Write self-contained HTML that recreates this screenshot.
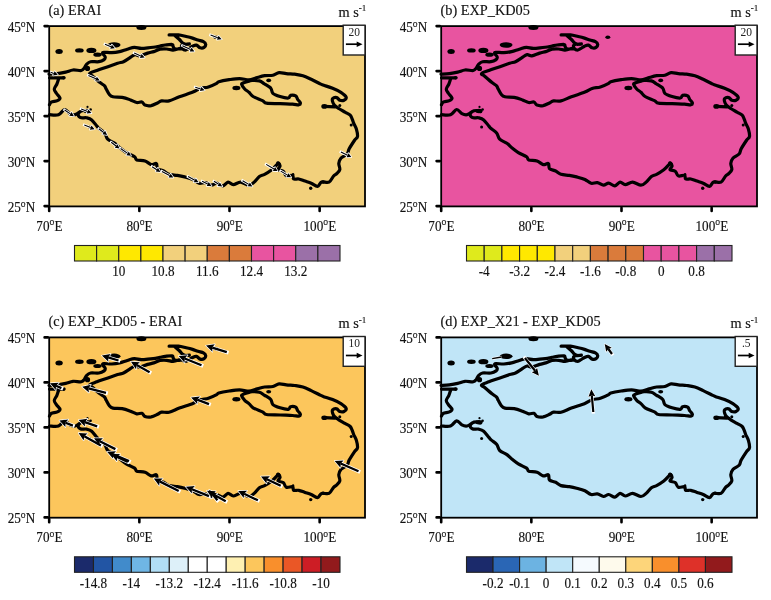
<!DOCTYPE html>
<html><head><meta charset="utf-8"><style>
html,body{margin:0;padding:0;background:#fff;}
svg{display:block;will-change:transform;filter:blur(0.35px)}
.t{font-family:"Liberation Serif",serif;font-size:13.6px;fill:#111;stroke:#111;stroke-width:0.15px}
.ti{font-size:14.3px}
.deg{font-size:10px;stroke-width:0.1px}
.sup{font-size:9px}
.r{font-family:"Liberation Serif",serif;font-size:11.5px;fill:#222}
</style></head><body>
<svg width="771" height="600" viewBox="0 0 771 600">
<defs><g id="tp"><path d="M0.0,48.2 C1.4,48.1 5.6,48.0 8.4,47.6 C11.2,47.2 14.1,46.7 16.7,46.1 C19.3,45.5 21.4,44.3 24.0,44.0 C26.6,43.7 30.4,44.9 32.3,44.5 C34.2,44.1 34.5,42.9 35.4,41.9 C36.3,40.9 36.5,39.3 37.5,38.3 C38.5,37.3 39.5,36.1 41.6,35.7 C43.7,35.3 47.6,36.1 49.9,35.7 C52.1,35.4 54.0,34.4 55.1,33.6 C56.2,32.8 56.4,32.0 56.2,31.0 C56.0,30.0 53.9,28.3 53.7,27.5 C53.5,26.7 53.5,26.4 55.0,26.3 C56.5,26.2 60.2,26.8 62.8,26.7 C65.4,26.6 68.0,26.2 70.6,25.6 C73.2,25.0 75.8,23.9 78.3,23.2 C80.8,22.5 83.1,21.5 85.4,21.4 C87.8,21.3 89.7,22.4 92.4,22.4 C95.1,22.4 99.4,21.7 101.7,21.5 C104.0,21.3 104.9,21.2 106.4,21.0 C108.0,20.8 109.4,20.3 111.0,20.0 C112.6,19.7 114.2,19.2 116.2,19.0 C118.2,18.8 121.9,18.3 123.2,18.5 C124.5,18.7 123.6,19.5 124.0,20.2 C124.4,20.9 124.6,22.1 125.6,22.6 C126.6,23.1 128.9,23.0 130.2,23.0 C131.5,23.0 132.8,22.7 133.3,22.6 M130.2,22.6 C129.2,22.9 126.1,24.0 124.0,24.1 C121.9,24.2 120.0,23.1 117.8,23.0 C115.6,22.9 113.2,22.8 111.0,23.2 C108.8,23.6 106.9,25.0 104.8,25.6 C102.7,26.2 100.9,26.4 98.6,27.1 C96.3,27.8 92.9,29.5 90.8,29.8 C88.7,30.1 87.8,28.4 86.1,28.7 C84.4,29.0 82.6,30.6 80.7,31.8 C78.8,33.0 76.5,34.8 74.5,35.7 C72.5,36.6 71.3,36.4 68.6,37.3 C65.9,38.2 61.7,39.7 58.2,40.9 C54.8,42.1 50.8,43.4 47.9,44.5 C45.0,45.6 41.3,46.6 40.6,47.6 C39.9,48.6 42.0,48.7 43.7,50.2 C45.4,51.7 49.0,54.9 51.0,56.5 C53.0,58.1 54.6,58.8 55.6,59.9 C56.6,61.0 56.4,61.6 57.2,63.0 C58.0,64.4 59.1,66.9 60.2,68.2 C61.3,69.5 61.7,70.3 63.9,70.8 C66.1,71.3 70.3,70.8 73.2,71.3 C76.1,71.8 79.1,73.0 81.5,73.9 C83.9,74.8 85.8,76.2 87.7,76.5 C89.6,76.8 91.5,75.6 92.9,76.0 C94.3,76.4 94.5,78.5 96.0,79.1 C97.5,79.7 100.1,79.9 102.2,79.6 C104.3,79.2 106.8,77.8 108.5,77.0 C110.2,76.2 110.7,75.2 112.6,74.9 C114.5,74.6 117.0,75.6 120.0,74.9 C123.0,74.2 126.4,72.3 130.4,70.8 C134.4,69.3 140.5,67.5 143.9,66.1 C147.3,64.7 148.5,63.4 151.1,62.5 C153.7,61.6 156.6,61.8 159.4,60.9 C162.2,60.0 166.0,58.2 167.7,57.3 C169.4,56.4 167.7,56.3 169.8,55.7 C171.9,55.1 176.8,54.2 180.2,53.7 C183.6,53.2 187.2,52.6 190.5,52.6 C193.8,52.6 197.2,54.0 200.0,53.9 C202.8,53.8 204.7,52.5 207.3,51.8 C209.9,51.1 212.8,50.1 215.6,49.7 C218.4,49.3 221.5,49.7 223.9,49.2 C226.3,48.7 227.9,46.9 230.1,46.6 C232.3,46.3 234.7,47.3 237.3,47.6 C239.9,47.9 242.8,47.9 245.6,48.2 C248.4,48.6 251.1,48.9 253.9,49.7 C256.7,50.6 259.4,52.0 262.2,53.3 C265.0,54.6 268.5,56.5 270.5,57.5 C272.5,58.5 272.0,58.3 274.2,59.1 C276.4,59.9 280.7,61.1 283.6,62.3 C286.6,63.5 289.6,64.9 291.9,66.4 C294.1,67.9 296.6,69.8 297.1,71.1 C297.6,72.4 296.1,73.7 295.0,74.2 C293.9,74.7 292.0,74.6 290.8,74.2 C289.6,73.8 288.9,71.9 287.7,71.6 C286.5,71.3 284.3,71.9 283.6,72.6 C282.9,73.3 283.3,74.6 283.6,75.7 C283.9,76.8 284.6,78.3 285.6,79.4 C286.6,80.5 288.1,81.4 289.8,82.5 C291.5,83.6 294.1,85.0 296.0,86.1 C297.9,87.2 300.0,88.0 301.2,89.2 C302.4,90.4 302.7,92.0 303.3,93.4 C303.9,94.8 304.1,95.9 304.8,97.5 C305.5,99.1 306.8,100.9 307.4,103.1 C308.0,105.2 308.8,108.5 308.5,110.4 C308.2,112.3 306.8,112.4 305.4,114.5 C304.0,116.6 301.4,120.5 300.2,122.8 C299.0,125.0 299.5,126.4 298.1,128.0 C296.7,129.6 293.3,130.6 291.9,132.2 C290.5,133.8 290.0,135.4 289.8,137.3 C289.6,139.2 291.2,141.9 290.8,143.6 C290.4,145.3 288.7,146.6 287.7,147.7 C286.7,148.8 285.9,148.6 284.6,150.0 C283.3,151.4 282.0,155.1 280.0,156.1 C278.0,157.1 274.5,155.4 272.6,156.1 C270.7,156.8 270.2,160.1 268.5,160.3 C266.8,160.5 264.3,158.1 262.2,157.2 C260.1,156.3 258.1,155.8 256.0,155.1 C253.9,154.4 251.7,153.3 249.8,153.0 C247.9,152.7 245.6,153.6 244.6,153.0 C243.6,152.4 244.8,149.9 243.6,149.4 C242.4,148.9 238.9,150.6 237.3,149.9 C235.7,149.2 235.6,146.2 234.2,145.2 C232.8,144.2 229.5,144.6 229.0,143.7 C228.5,142.8 231.1,141.1 231.1,140.0 C231.1,138.9 229.5,137.2 229.0,136.9 C228.5,136.7 229.0,137.4 228.0,138.5 C227.0,139.6 224.9,142.1 222.8,143.7 C220.7,145.3 217.7,147.2 215.6,148.3 C213.5,149.4 212.1,149.1 210.4,150.4 C208.7,151.7 206.9,154.6 205.2,156.1 C203.5,157.6 202.3,159.2 200.0,159.2 C197.7,159.2 194.2,156.2 191.6,156.1 C189.0,156.0 186.4,158.7 184.3,158.7 C182.2,158.7 180.8,155.9 179.1,156.1 C177.4,156.3 175.8,159.6 173.9,159.8 C172.0,160.0 169.6,157.3 167.7,157.2 C165.8,157.1 164.4,159.3 162.5,159.2 C160.6,159.1 158.4,156.9 156.3,156.6 C154.2,156.3 152.2,157.7 150.1,157.2 C148.0,156.7 146.3,154.6 143.9,153.5 C141.5,152.4 138.2,151.6 135.6,150.9 C133.0,150.2 130.9,149.8 128.3,149.4 C125.7,149.0 122.3,149.0 120.0,148.3 C117.7,147.6 116.6,145.9 114.7,145.0 C112.8,144.1 109.7,143.9 108.5,142.7 C107.3,141.4 108.5,138.2 107.4,137.5 C106.4,136.8 104.1,139.0 102.2,138.6 C100.3,138.2 98.4,135.7 96.0,134.9 C93.6,134.1 89.4,134.6 87.7,133.9 C86.0,133.2 87.3,132.0 85.6,130.8 C83.9,129.6 79.7,128.1 77.3,126.6 C74.9,125.1 73.0,123.5 71.1,122.0 C69.2,120.5 68.0,118.8 65.9,117.3 C63.8,115.8 60.4,114.9 58.7,113.2 C57.0,111.5 57.0,108.6 55.6,106.9 C54.2,105.2 51.7,103.9 50.4,102.8 C49.1,101.7 49.2,101.6 47.9,100.1 C46.6,98.6 44.4,95.3 42.7,93.9 C41.0,92.5 39.2,92.2 37.5,91.8 C35.8,91.4 33.7,92.2 32.3,91.8 C30.9,91.4 29.4,90.2 29.2,89.2 C29.0,88.2 30.3,86.4 31.3,85.6 C32.3,84.8 34.0,84.5 35.4,84.5 C36.8,84.5 38.9,85.4 39.6,85.6 M0.5,88.7 C2.0,88.7 7.0,89.6 9.5,88.7 C12.0,87.8 13.8,83.7 15.7,83.5 C17.6,83.3 19.2,86.7 20.9,87.6 C22.6,88.5 24.4,89.0 26.1,88.7 C27.8,88.4 30.4,86.1 31.3,85.6 M0.5,51.8 L14.7,51.8 M9.5,53.3 C9.2,54.1 8.6,56.4 7.9,58.0 C7.2,59.6 5.4,61.7 5.3,63.2 C5.2,64.8 6.5,65.8 7.4,67.3 C8.3,68.8 10.8,70.8 11.0,72.0 C11.2,73.2 9.9,73.9 8.4,74.6 C6.9,75.3 3.5,75.5 2.2,76.2 C0.9,76.9 0.8,78.4 0.5,78.8 M120.1,8.9 C121.7,8.9 126.7,8.6 129.5,8.9 C132.3,9.2 134.9,10.0 137.2,10.5 C139.5,11.0 141.6,11.5 143.5,12.1 C145.4,12.7 147.1,13.4 148.9,14.0 C150.7,14.6 153.1,14.9 154.4,15.6 C155.7,16.3 156.6,17.3 156.7,18.3 C156.8,19.3 156.0,20.8 155.1,21.4 C154.2,22.0 152.5,22.2 151.2,21.8 C149.9,21.4 148.7,19.4 147.4,19.1 C146.1,18.8 144.8,19.6 143.5,20.2 C142.2,20.8 140.8,22.0 139.6,22.6 C138.4,23.2 137.6,24.1 136.5,24.1 C135.4,24.1 134.0,23.4 133.3,22.6 C132.7,21.8 132.3,20.2 132.6,19.5 C132.9,18.8 133.6,18.6 134.9,18.3 C136.2,18.0 139.5,18.0 140.4,17.9 M125.6,9.3 C126.4,10.0 128.9,12.0 130.2,13.2 C131.5,14.4 132.2,15.8 133.3,16.7 C134.4,17.6 136.0,18.0 136.5,18.3 M203.1,54.4 C204.8,54.3 208.3,54.3 210.4,54.9 C212.5,55.5 213.7,56.8 215.6,58.0 C217.5,59.2 220.4,60.7 221.8,62.2 C223.2,63.8 222.4,65.9 223.9,67.3 C225.4,68.7 228.5,69.7 231.1,70.5 C233.7,71.3 237.7,72.2 239.4,72.0 C241.1,71.8 240.3,69.8 241.5,69.4 C242.7,69.1 245.5,69.2 246.7,69.9 C247.9,70.6 248.0,72.5 248.8,73.6 C249.6,74.7 251.1,75.8 251.3,76.7 C251.5,77.6 251.1,78.5 249.8,78.8 C248.5,79.0 246.7,78.4 243.6,78.2 C240.5,78.0 235.4,77.9 231.1,77.7 C226.8,77.5 220.5,77.7 217.6,77.2 C214.7,76.7 215.8,75.7 213.5,74.6 C211.2,73.5 206.3,71.9 204.1,70.5 C201.8,69.1 201.4,67.5 200.0,66.3 C198.6,65.0 196.9,64.3 195.7,63.0 C194.5,61.7 192.8,59.3 192.6,58.3 C192.4,57.3 193.5,57.3 194.7,56.8 C195.9,56.3 198.6,55.6 200.0,55.2 C201.4,54.8 201.4,54.5 203.1,54.4 M275.3,80.4 L285.6,80.9" fill="none" stroke="#000" stroke-width="3.2" stroke-linejoin="round" stroke-linecap="round"/>
<ellipse cx="10.1" cy="25.6" rx="3.7" ry="2.5"/>
<ellipse cx="30.4" cy="24.4" rx="4.3" ry="2.2"/>
<ellipse cx="48.5" cy="28.7" rx="4.2" ry="2.1"/>
<ellipse cx="65.1" cy="19" rx="6.4" ry="2.7"/>
<ellipse cx="42.4" cy="24.4" rx="5" ry="2.6"/>
<ellipse cx="92.4" cy="1.5" rx="5" ry="2.5"/>
<ellipse cx="166.8" cy="11.3" rx="2.5" ry="1.8"/>
<ellipse cx="187.4" cy="62" rx="4" ry="2.2"/>
<ellipse cx="219.7" cy="54.4" rx="2.5" ry="1.8"/>
<ellipse cx="275.3" cy="80.4" rx="3" ry="2.3"/>
<ellipse cx="290.8" cy="79.4" rx="1.5" ry="1.5"/>
<ellipse cx="38" cy="85" rx="3.5" ry="2.2"/>
<ellipse cx="38.5" cy="80.9" rx="1.1" ry="1.1"/>
<ellipse cx="41.6" cy="83.5" rx="1.3" ry="1.3"/>
<ellipse cx="40.6" cy="101.1" rx="1.5" ry="1.5"/>
<ellipse cx="261.7" cy="162.3" rx="1.7" ry="1.7"/>
<ellipse cx="38.5" cy="42.4" rx="2.6" ry="2.6"/>
<ellipse cx="138.5" cy="18.2" rx="2.5" ry="1.5"/>
<ellipse cx="302.2" cy="99.1" rx="1.5" ry="1.5"/>
<ellipse cx="244.1" cy="148.2" rx="1.2" ry="1.2"/>
<ellipse cx="14.7" cy="51.8" rx="2" ry="1.8"/>
<ellipse cx="229.5" cy="137.5" rx="2" ry="2"/>
<ellipse cx="274.1" cy="156" rx="2" ry="1.8"/></g></defs>
<rect x="49" y="26.0" width="316" height="180.3" fill="#F2D07C"/>
<g transform="translate(49,26.0)"><use href="#tp"/><path d="M56.0,18.2L62.0,20.7 M85.2,27.0L91.8,29.9 M133.4,19.7L141.6,23.6 M1.6,46.2L4.8,47.4 M39.4,49.4L47.0,52.7 M146.3,61.2L151.6,63.0 M15.6,84.0L21.4,87.9 M32.2,83.0L38.6,85.5 M35.3,99.1L41.7,101.6 M49.8,102.8L54.7,106.5 M62.2,116.3L67.1,120.0 M71.6,122.5L78.6,127.4 M103.1,140.7L107.8,143.7 M113.0,145.4L120.6,149.6 M139.1,150.6L145.8,154.3 M153.1,155.3L158.7,158.1 M165.0,155.3L169.7,158.3 M193.6,154.7L199.8,158.4 M291.9,126.0L298.5,129.2 M217.2,138.4L225.0,143.0 M231.7,145.1L238.5,149.1 M161.6,9.1L168.8,11.7" fill="none" stroke="#fff" stroke-width="2.70" stroke-linecap="square"/><path d="M65.9,22.3L61.2,22.7L62.0,20.7L62.9,18.7Z M95.6,31.6L90.9,31.9L91.8,29.9L92.6,27.9Z M145.4,25.4L140.7,25.6L141.6,23.6L142.6,21.6Z M8.8,48.8L4.1,49.4L4.8,47.4L5.6,45.3Z M50.8,54.4L46.1,54.7L47.0,52.7L47.8,50.7Z M155.6,64.3L150.9,65.1L151.6,63.0L152.3,60.9Z M24.9,90.2L20.2,89.7L21.4,87.9L22.6,86.0Z M42.5,87.1L37.8,87.6L38.6,85.5L39.4,83.5Z M45.6,103.2L40.9,103.7L41.7,101.6L42.5,99.6Z M58.1,109.0L53.4,108.2L54.7,106.5L56.1,104.7Z M70.5,122.5L65.8,121.7L67.1,120.0L68.5,118.2Z M82.0,129.8L77.3,129.2L78.6,127.4L79.8,125.6Z M111.4,145.9L106.7,145.5L107.8,143.7L109.0,141.8Z M124.3,151.6L119.6,151.5L120.6,149.6L121.7,147.7Z M149.5,156.3L144.8,156.2L145.8,154.3L146.9,152.4Z M162.5,159.9L157.8,160.0L158.7,158.1L159.7,156.1Z M173.3,160.5L168.6,160.1L169.7,158.3L170.9,156.4Z M203.4,160.5L198.7,160.3L199.8,158.4L200.9,156.5Z M302.3,131.0L297.6,131.2L298.5,129.2L299.5,127.2Z M228.6,145.1L223.9,144.9L225.0,143.0L226.1,141.1Z M242.1,151.3L237.4,151.0L238.5,149.1L239.6,147.3Z M172.7,13.2L168.0,13.8L168.8,11.7L169.5,9.7Z" fill="#fff" stroke="#fff" stroke-width="1.60" stroke-linejoin="round"/><path d="M56.0,18.2L62.0,20.7 M85.2,27.0L91.8,29.9 M133.4,19.7L141.6,23.6 M1.6,46.2L4.8,47.4 M39.4,49.4L47.0,52.7 M146.3,61.2L151.6,63.0 M15.6,84.0L21.4,87.9 M32.2,83.0L38.6,85.5 M35.3,99.1L41.7,101.6 M49.8,102.8L54.7,106.5 M62.2,116.3L67.1,120.0 M71.6,122.5L78.6,127.4 M103.1,140.7L107.8,143.7 M113.0,145.4L120.6,149.6 M139.1,150.6L145.8,154.3 M153.1,155.3L158.7,158.1 M165.0,155.3L169.7,158.3 M193.6,154.7L199.8,158.4 M291.9,126.0L298.5,129.2 M217.2,138.4L225.0,143.0 M231.7,145.1L238.5,149.1 M161.6,9.1L168.8,11.7" stroke="#000" stroke-width="1.1" fill="none"/><path d="M65.9,22.3L61.2,22.7L62.0,20.7L62.9,18.7Z M95.6,31.6L90.9,31.9L91.8,29.9L92.6,27.9Z M145.4,25.4L140.7,25.6L141.6,23.6L142.6,21.6Z M8.8,48.8L4.1,49.4L4.8,47.4L5.6,45.3Z M50.8,54.4L46.1,54.7L47.0,52.7L47.8,50.7Z M155.6,64.3L150.9,65.1L151.6,63.0L152.3,60.9Z M24.9,90.2L20.2,89.7L21.4,87.9L22.6,86.0Z M42.5,87.1L37.8,87.6L38.6,85.5L39.4,83.5Z M45.6,103.2L40.9,103.7L41.7,101.6L42.5,99.6Z M58.1,109.0L53.4,108.2L54.7,106.5L56.1,104.7Z M70.5,122.5L65.8,121.7L67.1,120.0L68.5,118.2Z M82.0,129.8L77.3,129.2L78.6,127.4L79.8,125.6Z M111.4,145.9L106.7,145.5L107.8,143.7L109.0,141.8Z M124.3,151.6L119.6,151.5L120.6,149.6L121.7,147.7Z M149.5,156.3L144.8,156.2L145.8,154.3L146.9,152.4Z M162.5,159.9L157.8,160.0L158.7,158.1L159.7,156.1Z M173.3,160.5L168.6,160.1L169.7,158.3L170.9,156.4Z M203.4,160.5L198.7,160.3L199.8,158.4L200.9,156.5Z M302.3,131.0L297.6,131.2L298.5,129.2L299.5,127.2Z M228.6,145.1L223.9,144.9L225.0,143.0L226.1,141.1Z M242.1,151.3L237.4,151.0L238.5,149.1L239.6,147.3Z M172.7,13.2L168.0,13.8L168.8,11.7L169.5,9.7Z" fill="#000"/></g>
<rect x="49.2" y="26.1" width="315.8" height="180.3" fill="none" stroke="#000" stroke-width="1.8"/>
<path d="M44.6,26.1H47.8 M44.6,71.1H47.8 M44.6,116.1H47.8 M44.6,161.1H47.8 M44.6,206.1H47.8 M49.20,207.70000000000002V210.9 M139.35,207.70000000000002V210.9 M229.50,207.70000000000002V210.9 M319.65,207.70000000000002V210.9" stroke="#000" stroke-width="2.6" fill="none" stroke-linecap="round"/>
<g transform="translate(35.2,32.1) scale(0.97,1)"><text text-anchor="end" class="t">45<tspan class="deg" dy="-5.4">o</tspan><tspan dy="5.4">N</tspan></text></g>
<g transform="translate(35.2,77.1) scale(0.97,1)"><text text-anchor="end" class="t">40<tspan class="deg" dy="-5.4">o</tspan><tspan dy="5.4">N</tspan></text></g>
<g transform="translate(35.2,122.1) scale(0.97,1)"><text text-anchor="end" class="t">35<tspan class="deg" dy="-5.4">o</tspan><tspan dy="5.4">N</tspan></text></g>
<g transform="translate(35.2,167.1) scale(0.97,1)"><text text-anchor="end" class="t">30<tspan class="deg" dy="-5.4">o</tspan><tspan dy="5.4">N</tspan></text></g>
<g transform="translate(35.2,212.1) scale(0.97,1)"><text text-anchor="end" class="t">25<tspan class="deg" dy="-5.4">o</tspan><tspan dy="5.4">N</tspan></text></g>
<g transform="translate(49.40,230.60000000000002) scale(0.97,1)"><text text-anchor="middle" class="t">70<tspan class="deg" dy="-5.4">o</tspan><tspan dy="5.4">E</tspan></text></g>
<g transform="translate(139.55,230.60000000000002) scale(0.97,1)"><text text-anchor="middle" class="t">80<tspan class="deg" dy="-5.4">o</tspan><tspan dy="5.4">E</tspan></text></g>
<g transform="translate(229.70,230.60000000000002) scale(0.97,1)"><text text-anchor="middle" class="t">90<tspan class="deg" dy="-5.4">o</tspan><tspan dy="5.4">E</tspan></text></g>
<g transform="translate(319.85,230.60000000000002) scale(0.97,1)"><text text-anchor="middle" class="t">100<tspan class="deg" dy="-5.4">o</tspan><tspan dy="5.4">E</tspan></text></g>
<text x="48.5" y="14.8" class="t ti">(a) ERAI</text>
<text x="338.5" y="16.8" class="t ti">m s<tspan class="sup" dy="-5.5">-1</tspan></text>
<rect x="343.2" y="25.2" width="21.8" height="29.8" fill="#fff" stroke="#222" stroke-width="1.4"/>
<text x="354.2" y="35.8" text-anchor="middle" class="r">20</text>
<path d="M345.9,44.2H357.2" stroke="#000" stroke-width="1.7"/><path d="M356.7,41.5L362.5,44.2L356.7,46.9Z" fill="#000"/>
<rect x="74.50" y="245.5" width="22.12" height="15.5" fill="#DFEA1C" stroke="#222" stroke-width="1.1"/>
<rect x="96.62" y="245.5" width="22.12" height="15.5" fill="#DFEA1C" stroke="#222" stroke-width="1.1"/>
<rect x="118.75" y="245.5" width="22.12" height="15.5" fill="#FFE800" stroke="#222" stroke-width="1.1"/>
<rect x="140.88" y="245.5" width="22.12" height="15.5" fill="#FFE800" stroke="#222" stroke-width="1.1"/>
<rect x="163.00" y="245.5" width="22.12" height="15.5" fill="#F2D07C" stroke="#222" stroke-width="1.1"/>
<rect x="185.12" y="245.5" width="22.12" height="15.5" fill="#F2D07C" stroke="#222" stroke-width="1.1"/>
<rect x="207.25" y="245.5" width="22.12" height="15.5" fill="#DA7B3B" stroke="#222" stroke-width="1.1"/>
<rect x="229.38" y="245.5" width="22.12" height="15.5" fill="#DA7B3B" stroke="#222" stroke-width="1.1"/>
<rect x="251.50" y="245.5" width="22.12" height="15.5" fill="#E854A0" stroke="#222" stroke-width="1.1"/>
<rect x="273.62" y="245.5" width="22.12" height="15.5" fill="#E854A0" stroke="#222" stroke-width="1.1"/>
<rect x="295.75" y="245.5" width="22.12" height="15.5" fill="#9B70A8" stroke="#222" stroke-width="1.1"/>
<rect x="317.88" y="245.5" width="22.12" height="15.5" fill="#9B70A8" stroke="#222" stroke-width="1.1"/>
<g transform="translate(118.75,276.3) scale(0.97,1)"><text text-anchor="middle" class="t">10</text></g>
<g transform="translate(163.00,276.3) scale(0.97,1)"><text text-anchor="middle" class="t">10.8</text></g>
<g transform="translate(207.25,276.3) scale(0.97,1)"><text text-anchor="middle" class="t">11.6</text></g>
<g transform="translate(251.50,276.3) scale(0.97,1)"><text text-anchor="middle" class="t">12.4</text></g>
<g transform="translate(295.75,276.3) scale(0.97,1)"><text text-anchor="middle" class="t">13.2</text></g><rect x="441" y="26.0" width="316" height="180.3" fill="#E854A0"/>
<g transform="translate(441,26.0)"><use href="#tp"/></g>
<rect x="441.2" y="26.1" width="315.8" height="180.3" fill="none" stroke="#000" stroke-width="1.8"/>
<path d="M436.6,26.1H439.8 M436.6,71.1H439.8 M436.6,116.1H439.8 M436.6,161.1H439.8 M436.6,206.1H439.8 M441.20,207.70000000000002V210.9 M531.35,207.70000000000002V210.9 M621.50,207.70000000000002V210.9 M711.65,207.70000000000002V210.9" stroke="#000" stroke-width="2.6" fill="none" stroke-linecap="round"/>
<g transform="translate(427.2,32.1) scale(0.97,1)"><text text-anchor="end" class="t">45<tspan class="deg" dy="-5.4">o</tspan><tspan dy="5.4">N</tspan></text></g>
<g transform="translate(427.2,77.1) scale(0.97,1)"><text text-anchor="end" class="t">40<tspan class="deg" dy="-5.4">o</tspan><tspan dy="5.4">N</tspan></text></g>
<g transform="translate(427.2,122.1) scale(0.97,1)"><text text-anchor="end" class="t">35<tspan class="deg" dy="-5.4">o</tspan><tspan dy="5.4">N</tspan></text></g>
<g transform="translate(427.2,167.1) scale(0.97,1)"><text text-anchor="end" class="t">30<tspan class="deg" dy="-5.4">o</tspan><tspan dy="5.4">N</tspan></text></g>
<g transform="translate(427.2,212.1) scale(0.97,1)"><text text-anchor="end" class="t">25<tspan class="deg" dy="-5.4">o</tspan><tspan dy="5.4">N</tspan></text></g>
<g transform="translate(441.40,230.60000000000002) scale(0.97,1)"><text text-anchor="middle" class="t">70<tspan class="deg" dy="-5.4">o</tspan><tspan dy="5.4">E</tspan></text></g>
<g transform="translate(531.55,230.60000000000002) scale(0.97,1)"><text text-anchor="middle" class="t">80<tspan class="deg" dy="-5.4">o</tspan><tspan dy="5.4">E</tspan></text></g>
<g transform="translate(621.70,230.60000000000002) scale(0.97,1)"><text text-anchor="middle" class="t">90<tspan class="deg" dy="-5.4">o</tspan><tspan dy="5.4">E</tspan></text></g>
<g transform="translate(711.85,230.60000000000002) scale(0.97,1)"><text text-anchor="middle" class="t">100<tspan class="deg" dy="-5.4">o</tspan><tspan dy="5.4">E</tspan></text></g>
<text x="440.5" y="14.8" class="t ti">(b) EXP_KD05</text>
<text x="730.5" y="16.8" class="t ti">m s<tspan class="sup" dy="-5.5">-1</tspan></text>
<rect x="735.2" y="25.2" width="21.8" height="29.8" fill="#fff" stroke="#222" stroke-width="1.4"/>
<text x="746.2" y="35.8" text-anchor="middle" class="r">20</text>
<path d="M737.9000000000001,44.2H749.2" stroke="#000" stroke-width="1.7"/><path d="M748.7,41.5L754.5,44.2L748.7,46.9Z" fill="#000"/>
<rect x="466.50" y="245.5" width="17.70" height="15.5" fill="#DFEA1C" stroke="#222" stroke-width="1.1"/>
<rect x="484.20" y="245.5" width="17.70" height="15.5" fill="#DFEA1C" stroke="#222" stroke-width="1.1"/>
<rect x="501.90" y="245.5" width="17.70" height="15.5" fill="#FFE800" stroke="#222" stroke-width="1.1"/>
<rect x="519.60" y="245.5" width="17.70" height="15.5" fill="#FFE800" stroke="#222" stroke-width="1.1"/>
<rect x="537.30" y="245.5" width="17.70" height="15.5" fill="#FFE800" stroke="#222" stroke-width="1.1"/>
<rect x="555.00" y="245.5" width="17.70" height="15.5" fill="#F2D07C" stroke="#222" stroke-width="1.1"/>
<rect x="572.70" y="245.5" width="17.70" height="15.5" fill="#F2D07C" stroke="#222" stroke-width="1.1"/>
<rect x="590.40" y="245.5" width="17.70" height="15.5" fill="#DA7B3B" stroke="#222" stroke-width="1.1"/>
<rect x="608.10" y="245.5" width="17.70" height="15.5" fill="#DA7B3B" stroke="#222" stroke-width="1.1"/>
<rect x="625.80" y="245.5" width="17.70" height="15.5" fill="#DA7B3B" stroke="#222" stroke-width="1.1"/>
<rect x="643.50" y="245.5" width="17.70" height="15.5" fill="#E854A0" stroke="#222" stroke-width="1.1"/>
<rect x="661.20" y="245.5" width="17.70" height="15.5" fill="#E854A0" stroke="#222" stroke-width="1.1"/>
<rect x="678.90" y="245.5" width="17.70" height="15.5" fill="#E854A0" stroke="#222" stroke-width="1.1"/>
<rect x="696.60" y="245.5" width="17.70" height="15.5" fill="#9B70A8" stroke="#222" stroke-width="1.1"/>
<rect x="714.30" y="245.5" width="17.70" height="15.5" fill="#9B70A8" stroke="#222" stroke-width="1.1"/>
<g transform="translate(484.20,276.3) scale(0.97,1)"><text text-anchor="middle" class="t">-4</text></g>
<g transform="translate(519.60,276.3) scale(0.97,1)"><text text-anchor="middle" class="t">-3.2</text></g>
<g transform="translate(555.00,276.3) scale(0.97,1)"><text text-anchor="middle" class="t">-2.4</text></g>
<g transform="translate(590.40,276.3) scale(0.97,1)"><text text-anchor="middle" class="t">-1.6</text></g>
<g transform="translate(625.80,276.3) scale(0.97,1)"><text text-anchor="middle" class="t">-0.8</text></g>
<g transform="translate(661.20,276.3) scale(0.97,1)"><text text-anchor="middle" class="t">0</text></g>
<g transform="translate(696.60,276.3) scale(0.97,1)"><text text-anchor="middle" class="t">0.8</text></g><rect x="49" y="337.3" width="316" height="180.3" fill="#FCC65C"/>
<g transform="translate(49,337.3)"><use href="#tp"/><path d="M69.5,23.2L59.1,20.1 M100.6,34.9L87.7,27.7 M152.5,28.0L135.7,21.2 M57.0,55.6L39.5,51.0 M160.0,66.8L148.2,62.4 M12.4,50.8L7.0,48.5 M23.9,88.3L16.5,85.4 M48.2,89.0L35.8,84.9 M51.9,108.2L35.3,98.9 M66.4,111.8L50.8,103.9 M80.0,123.8L64.1,117.0 M78.8,124.6L68.1,119.7 M129.7,153.7L110.6,144.1 M160.0,158.8L142.9,151.9 M168.4,163.0L164.2,157.7 M208.9,163.0L195.1,156.5 M231.7,148.5L217.9,141.9 M309.5,133.9L291.7,126.2 M177.8,14.9L163.2,10.3 M176.7,164.0L163.7,156.7" fill="none" stroke="#fff" stroke-width="3.70" stroke-linecap="square"/><path d="M52.9,18.3L61.7,16.7L59.1,20.1L59.4,24.4Z M82.0,24.5L90.9,24.9L87.7,27.7L87.0,31.9Z M129.7,18.7L138.6,18.0L135.7,21.2L135.6,25.4Z M33.2,49.4L41.9,47.5L39.5,51.0L39.9,55.3Z M142.1,60.2L151.0,59.2L148.2,62.4L148.2,66.7Z M1.0,46.0L9.9,45.4L7.0,48.5L6.8,52.8Z M10.4,83.1L19.3,82.2L16.5,85.4L16.4,89.7Z M29.6,82.8L38.5,81.5L35.8,84.9L35.9,89.1Z M29.6,95.7L38.5,96.1L35.3,98.9L34.6,103.1Z M45.0,101.0L53.9,101.0L50.8,103.9L50.3,108.2Z M58.1,114.4L67.0,113.9L64.1,117.0L63.9,121.2Z M62.2,117.0L71.1,116.7L68.1,119.7L67.8,124.0Z M104.8,141.2L113.7,141.2L110.6,144.1L110.2,148.4Z M136.9,149.5L145.8,148.8L142.9,151.9L142.8,156.2Z M160.1,152.6L168.2,156.4L164.2,157.7L162.0,161.3Z M189.2,153.7L198.1,153.5L195.1,156.5L194.7,160.7Z M212.0,139.1L220.9,138.9L217.9,141.9L217.5,146.2Z M285.7,123.6L294.6,123.1L291.7,126.2L291.5,130.4Z M157.0,8.3L165.8,6.9L163.2,10.3L163.4,14.5Z M158.0,153.5L166.9,153.9L163.7,156.7L163.0,160.9Z" fill="#fff" stroke="#fff" stroke-width="1.40" stroke-linejoin="round"/><path d="M69.5,23.2L59.1,20.1 M100.6,34.9L87.7,27.7 M152.5,28.0L135.7,21.2 M57.0,55.6L39.5,51.0 M160.0,66.8L148.2,62.4 M12.4,50.8L7.0,48.5 M23.9,88.3L16.5,85.4 M48.2,89.0L35.8,84.9 M51.9,108.2L35.3,98.9 M66.4,111.8L50.8,103.9 M80.0,123.8L64.1,117.0 M78.8,124.6L68.1,119.7 M129.7,153.7L110.6,144.1 M160.0,158.8L142.9,151.9 M168.4,163.0L164.2,157.7 M208.9,163.0L195.1,156.5 M231.7,148.5L217.9,141.9 M309.5,133.9L291.7,126.2 M177.8,14.9L163.2,10.3 M176.7,164.0L163.7,156.7" stroke="#000" stroke-width="2.3" fill="none"/><path d="M52.9,18.3L61.7,16.7L59.1,20.1L59.4,24.4Z M82.0,24.5L90.9,24.9L87.7,27.7L87.0,31.9Z M129.7,18.7L138.6,18.0L135.7,21.2L135.6,25.4Z M33.2,49.4L41.9,47.5L39.5,51.0L39.9,55.3Z M142.1,60.2L151.0,59.2L148.2,62.4L148.2,66.7Z M1.0,46.0L9.9,45.4L7.0,48.5L6.8,52.8Z M10.4,83.1L19.3,82.2L16.5,85.4L16.4,89.7Z M29.6,82.8L38.5,81.5L35.8,84.9L35.9,89.1Z M29.6,95.7L38.5,96.1L35.3,98.9L34.6,103.1Z M45.0,101.0L53.9,101.0L50.8,103.9L50.3,108.2Z M58.1,114.4L67.0,113.9L64.1,117.0L63.9,121.2Z M62.2,117.0L71.1,116.7L68.1,119.7L67.8,124.0Z M104.8,141.2L113.7,141.2L110.6,144.1L110.2,148.4Z M136.9,149.5L145.8,148.8L142.9,151.9L142.8,156.2Z M160.1,152.6L168.2,156.4L164.2,157.7L162.0,161.3Z M189.2,153.7L198.1,153.5L195.1,156.5L194.7,160.7Z M212.0,139.1L220.9,138.9L217.9,141.9L217.5,146.2Z M285.7,123.6L294.6,123.1L291.7,126.2L291.5,130.4Z M157.0,8.3L165.8,6.9L163.2,10.3L163.4,14.5Z M158.0,153.5L166.9,153.9L163.7,156.7L163.0,160.9Z" fill="#000"/></g>
<rect x="49.2" y="337.40000000000003" width="315.8" height="180.3" fill="none" stroke="#000" stroke-width="1.8"/>
<path d="M44.6,337.40000000000003H47.8 M44.6,382.40000000000003H47.8 M44.6,427.40000000000003H47.8 M44.6,472.40000000000003H47.8 M44.6,517.4H47.8 M49.20,519.0V522.2 M139.35,519.0V522.2 M229.50,519.0V522.2 M319.65,519.0V522.2" stroke="#000" stroke-width="2.6" fill="none" stroke-linecap="round"/>
<g transform="translate(35.2,343.40000000000003) scale(0.97,1)"><text text-anchor="end" class="t">45<tspan class="deg" dy="-5.4">o</tspan><tspan dy="5.4">N</tspan></text></g>
<g transform="translate(35.2,388.40000000000003) scale(0.97,1)"><text text-anchor="end" class="t">40<tspan class="deg" dy="-5.4">o</tspan><tspan dy="5.4">N</tspan></text></g>
<g transform="translate(35.2,433.40000000000003) scale(0.97,1)"><text text-anchor="end" class="t">35<tspan class="deg" dy="-5.4">o</tspan><tspan dy="5.4">N</tspan></text></g>
<g transform="translate(35.2,478.40000000000003) scale(0.97,1)"><text text-anchor="end" class="t">30<tspan class="deg" dy="-5.4">o</tspan><tspan dy="5.4">N</tspan></text></g>
<g transform="translate(35.2,523.4) scale(0.97,1)"><text text-anchor="end" class="t">25<tspan class="deg" dy="-5.4">o</tspan><tspan dy="5.4">N</tspan></text></g>
<g transform="translate(49.40,541.9) scale(0.97,1)"><text text-anchor="middle" class="t">70<tspan class="deg" dy="-5.4">o</tspan><tspan dy="5.4">E</tspan></text></g>
<g transform="translate(139.55,541.9) scale(0.97,1)"><text text-anchor="middle" class="t">80<tspan class="deg" dy="-5.4">o</tspan><tspan dy="5.4">E</tspan></text></g>
<g transform="translate(229.70,541.9) scale(0.97,1)"><text text-anchor="middle" class="t">90<tspan class="deg" dy="-5.4">o</tspan><tspan dy="5.4">E</tspan></text></g>
<g transform="translate(319.85,541.9) scale(0.97,1)"><text text-anchor="middle" class="t">100<tspan class="deg" dy="-5.4">o</tspan><tspan dy="5.4">E</tspan></text></g>
<text x="48.5" y="326.1" class="t ti">(c) EXP_KD05 - ERAI</text>
<text x="338.5" y="328.1" class="t ti">m s<tspan class="sup" dy="-5.5">-1</tspan></text>
<rect x="343.2" y="336.5" width="21.8" height="29.8" fill="#fff" stroke="#222" stroke-width="1.4"/>
<text x="354.2" y="347.1" text-anchor="middle" class="r">10</text>
<path d="M345.9,355.5H357.2" stroke="#000" stroke-width="1.7"/><path d="M356.7,352.8L362.5,355.5L356.7,358.2Z" fill="#000"/>
<rect x="74.50" y="556.8" width="18.96" height="15.5" fill="#1B2A6B" stroke="#222" stroke-width="1.1"/>
<rect x="93.46" y="556.8" width="18.96" height="15.5" fill="#2255A4" stroke="#222" stroke-width="1.1"/>
<rect x="112.43" y="556.8" width="18.96" height="15.5" fill="#418BCB" stroke="#222" stroke-width="1.1"/>
<rect x="131.39" y="556.8" width="18.96" height="15.5" fill="#6FB6E5" stroke="#222" stroke-width="1.1"/>
<rect x="150.36" y="556.8" width="18.96" height="15.5" fill="#B1DEF6" stroke="#222" stroke-width="1.1"/>
<rect x="169.32" y="556.8" width="18.96" height="15.5" fill="#DDF0F9" stroke="#222" stroke-width="1.1"/>
<rect x="188.29" y="556.8" width="18.96" height="15.5" fill="#FFFFFF" stroke="#222" stroke-width="1.1"/>
<rect x="207.25" y="556.8" width="18.96" height="15.5" fill="#FFFFFF" stroke="#222" stroke-width="1.1"/>
<rect x="226.21" y="556.8" width="18.96" height="15.5" fill="#FEF0B2" stroke="#222" stroke-width="1.1"/>
<rect x="245.18" y="556.8" width="18.96" height="15.5" fill="#FCC65C" stroke="#222" stroke-width="1.1"/>
<rect x="264.14" y="556.8" width="18.96" height="15.5" fill="#F98F2C" stroke="#222" stroke-width="1.1"/>
<rect x="283.11" y="556.8" width="18.96" height="15.5" fill="#EA5726" stroke="#222" stroke-width="1.1"/>
<rect x="302.07" y="556.8" width="18.96" height="15.5" fill="#CD1D25" stroke="#222" stroke-width="1.1"/>
<rect x="321.04" y="556.8" width="18.96" height="15.5" fill="#921A1C" stroke="#222" stroke-width="1.1"/>
<g transform="translate(93.46,587.5999999999999) scale(0.97,1)"><text text-anchor="middle" class="t">-14.8</text></g>
<g transform="translate(131.39,587.5999999999999) scale(0.97,1)"><text text-anchor="middle" class="t">-14</text></g>
<g transform="translate(169.32,587.5999999999999) scale(0.97,1)"><text text-anchor="middle" class="t">-13.2</text></g>
<g transform="translate(207.25,587.5999999999999) scale(0.97,1)"><text text-anchor="middle" class="t">-12.4</text></g>
<g transform="translate(245.18,587.5999999999999) scale(0.97,1)"><text text-anchor="middle" class="t">-11.6</text></g>
<g transform="translate(283.11,587.5999999999999) scale(0.97,1)"><text text-anchor="middle" class="t">-10.8</text></g>
<g transform="translate(321.04,587.5999999999999) scale(0.97,1)"><text text-anchor="middle" class="t">-10</text></g><rect x="441" y="337.3" width="316" height="180.3" fill="#C0E5F7"/>
<g transform="translate(441,337.3)"><use href="#tp"/><path d="M51.2,21.3L60.6,19.7" stroke="#fff" stroke-width="2.6"/><path d="M51.2,21.3L60.6,19.7" stroke="#000" stroke-width="1.3"/><path d="M83.9,20.7L94.1,33.5 M171.0,16.7L167.4,11.7 M152.3,74.7L150.8,58.2" fill="none" stroke="#fff" stroke-width="3.40" stroke-linecap="square"/><path d="M97.9,38.4L90.8,34.9L94.1,33.5L96.1,30.6Z M163.7,6.7L170.7,10.5L167.4,11.7L165.2,14.5Z M150.3,52.0L154.3,58.9L150.8,58.2L147.5,59.5Z" fill="#fff" stroke="#fff" stroke-width="1.20" stroke-linejoin="round"/><path d="M83.9,20.7L94.1,33.5 M171.0,16.7L167.4,11.7 M152.3,74.7L150.8,58.2" stroke="#000" stroke-width="2.2" fill="none"/><path d="M97.9,38.4L90.8,34.9L94.1,33.5L96.1,30.6Z M163.7,6.7L170.7,10.5L167.4,11.7L165.2,14.5Z M150.3,52.0L154.3,58.9L150.8,58.2L147.5,59.5Z" fill="#000"/></g>
<rect x="441.2" y="337.40000000000003" width="315.8" height="180.3" fill="none" stroke="#000" stroke-width="1.8"/>
<path d="M436.6,337.40000000000003H439.8 M436.6,382.40000000000003H439.8 M436.6,427.40000000000003H439.8 M436.6,472.40000000000003H439.8 M436.6,517.4H439.8 M441.20,519.0V522.2 M531.35,519.0V522.2 M621.50,519.0V522.2 M711.65,519.0V522.2" stroke="#000" stroke-width="2.6" fill="none" stroke-linecap="round"/>
<g transform="translate(427.2,343.40000000000003) scale(0.97,1)"><text text-anchor="end" class="t">45<tspan class="deg" dy="-5.4">o</tspan><tspan dy="5.4">N</tspan></text></g>
<g transform="translate(427.2,388.40000000000003) scale(0.97,1)"><text text-anchor="end" class="t">40<tspan class="deg" dy="-5.4">o</tspan><tspan dy="5.4">N</tspan></text></g>
<g transform="translate(427.2,433.40000000000003) scale(0.97,1)"><text text-anchor="end" class="t">35<tspan class="deg" dy="-5.4">o</tspan><tspan dy="5.4">N</tspan></text></g>
<g transform="translate(427.2,478.40000000000003) scale(0.97,1)"><text text-anchor="end" class="t">30<tspan class="deg" dy="-5.4">o</tspan><tspan dy="5.4">N</tspan></text></g>
<g transform="translate(427.2,523.4) scale(0.97,1)"><text text-anchor="end" class="t">25<tspan class="deg" dy="-5.4">o</tspan><tspan dy="5.4">N</tspan></text></g>
<g transform="translate(441.40,541.9) scale(0.97,1)"><text text-anchor="middle" class="t">70<tspan class="deg" dy="-5.4">o</tspan><tspan dy="5.4">E</tspan></text></g>
<g transform="translate(531.55,541.9) scale(0.97,1)"><text text-anchor="middle" class="t">80<tspan class="deg" dy="-5.4">o</tspan><tspan dy="5.4">E</tspan></text></g>
<g transform="translate(621.70,541.9) scale(0.97,1)"><text text-anchor="middle" class="t">90<tspan class="deg" dy="-5.4">o</tspan><tspan dy="5.4">E</tspan></text></g>
<g transform="translate(711.85,541.9) scale(0.97,1)"><text text-anchor="middle" class="t">100<tspan class="deg" dy="-5.4">o</tspan><tspan dy="5.4">E</tspan></text></g>
<text x="440.5" y="326.1" class="t ti">(d) EXP_X21 - EXP_KD05</text>
<text x="730.5" y="328.1" class="t ti">m s<tspan class="sup" dy="-5.5">-1</tspan></text>
<rect x="735.2" y="336.5" width="21.8" height="29.8" fill="#fff" stroke="#222" stroke-width="1.4"/>
<text x="746.2" y="347.1" text-anchor="middle" class="r">.5</text>
<path d="M737.9000000000001,355.5H749.2" stroke="#000" stroke-width="1.7"/><path d="M748.7,352.8L754.5,355.5L748.7,358.2Z" fill="#000"/>
<rect x="466.50" y="556.8" width="26.55" height="15.5" fill="#1B2A6B" stroke="#222" stroke-width="1.1"/>
<rect x="493.05" y="556.8" width="26.55" height="15.5" fill="#2A66B5" stroke="#222" stroke-width="1.1"/>
<rect x="519.60" y="556.8" width="26.55" height="15.5" fill="#6CB3E2" stroke="#222" stroke-width="1.1"/>
<rect x="546.15" y="556.8" width="26.55" height="15.5" fill="#C0E5F7" stroke="#222" stroke-width="1.1"/>
<rect x="572.70" y="556.8" width="26.55" height="15.5" fill="#F5FAFE" stroke="#222" stroke-width="1.1"/>
<rect x="599.25" y="556.8" width="26.55" height="15.5" fill="#FEFAEC" stroke="#222" stroke-width="1.1"/>
<rect x="625.80" y="556.8" width="26.55" height="15.5" fill="#FDD57A" stroke="#222" stroke-width="1.1"/>
<rect x="652.35" y="556.8" width="26.55" height="15.5" fill="#F98F2C" stroke="#222" stroke-width="1.1"/>
<rect x="678.90" y="556.8" width="26.55" height="15.5" fill="#DE3129" stroke="#222" stroke-width="1.1"/>
<rect x="705.45" y="556.8" width="26.55" height="15.5" fill="#921A1C" stroke="#222" stroke-width="1.1"/>
<g transform="translate(493.05,587.5999999999999) scale(0.97,1)"><text text-anchor="middle" class="t">-0.2</text></g>
<g transform="translate(519.60,587.5999999999999) scale(0.97,1)"><text text-anchor="middle" class="t">-0.1</text></g>
<g transform="translate(546.15,587.5999999999999) scale(0.97,1)"><text text-anchor="middle" class="t">0</text></g>
<g transform="translate(572.70,587.5999999999999) scale(0.97,1)"><text text-anchor="middle" class="t">0.1</text></g>
<g transform="translate(599.25,587.5999999999999) scale(0.97,1)"><text text-anchor="middle" class="t">0.2</text></g>
<g transform="translate(625.80,587.5999999999999) scale(0.97,1)"><text text-anchor="middle" class="t">0.3</text></g>
<g transform="translate(652.35,587.5999999999999) scale(0.97,1)"><text text-anchor="middle" class="t">0.4</text></g>
<g transform="translate(678.90,587.5999999999999) scale(0.97,1)"><text text-anchor="middle" class="t">0.5</text></g>
<g transform="translate(705.45,587.5999999999999) scale(0.97,1)"><text text-anchor="middle" class="t">0.6</text></g>
</svg>
</body></html>
